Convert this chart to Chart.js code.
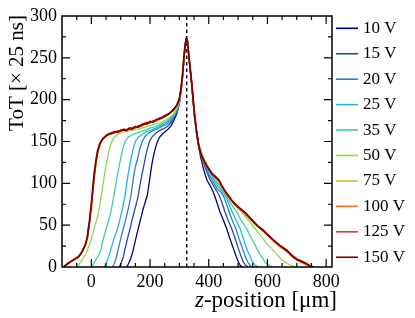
<!DOCTYPE html>
<html>
<head>
<meta charset="utf-8">
<script src="https://cdn.jsdelivr.net/npm/chart.js@4.4.1/dist/chart.umd.min.js"></script>
<style>
  html, body { margin: 0; padding: 0; background: #fff; }
  #wrap { width: 415px; height: 318px; }
</style>
</head>
<body>
<div id="wrap"><canvas id="tot" width="415" height="318"></canvas></div>
<script>
const SERIF = "'Liberation Serif', 'Times New Roman', serif";

// bias voltages and their colours (jet-like)
const voltages = ["10 V", "15 V", "20 V", "25 V", "35 V", "50 V", "75 V", "100 V", "125 V", "150 V"];
const lineColors = ["#000080", "#2a4a9f", "#2f7fcf", "#1fb7df", "#3fcf9f", "#8fd84f", "#c7bf2f", "#ef6f1f", "#e73737", "#7f0000"];

// [z-position (um), ToT (x25 ns)]
const tot10V = [[121,0],[128,5],[135,11],[141,18],[149,30],[157,42],[167,56],[177,70],[184,78],[191,86],[196,98],[201,110],[205,120],[209,128],[215,138],[223,148],[232,155],[242,159],[252,162],[262,165],[272,169],[281,175],[290,182],[296,189],[301,198],[306,211],[311,228],[316,250],[320,266],[324,274],[327,272],[331,257],[336,238],[342,218],[347,198],[352,178],[358,161],[365,145],[372,132],[380,120],[388,110],[395,103],[405,97],[415,90],[425,80],[438,66],[450,56],[461,46],[472,34],[484,22],[493,13],[501,6],[507,2],[513,0]];
const tot15V = [[95,0],[102,5],[109,12],[115,22],[123,34],[132,46],[140,58],[149,70],[155,78],[160,86],[166,98],[172,110],[178,120],[183,129],[190,140],[198,150],[208,156],[220,160],[232,163],[244,165],[256,167],[268,171],[280,177],[290,184],[296,190],[301,199],[306,212],[311,229],[316,251],[320,266],[324,273],[327,271],[331,257],[336,239],[342,219],[347,199],[352,179],[358,162],[365,146],[375,133],[385,122],[395,112],[405,104],[415,98],[425,92],[435,86],[445,77],[455,66],[466,56],[478,46],[490,34],[501,22],[510,13],[518,6],[526,2],[533,0]];
const tot20V = [[72,0],[79,5],[86,12],[92,22],[100,34],[109,46],[118,58],[126,70],[131,78],[135,86],[140,98],[145,110],[150,120],[158,130],[165,141],[173,150],[183,156],[195,160],[210,163],[225,165],[240,168],[255,170],[268,174],[280,179],[290,185],[296,191],[301,199],[306,212],[311,229],[316,251],[320,266],[324,272],[327,271],[331,257],[336,239],[342,219],[347,199],[352,179],[358,162],[365,147],[375,135],[385,125],[395,116],[405,108],[418,100],[430,93],[440,90],[450,85],[460,76],[469,66],[480,56],[492,46],[503,34],[515,22],[524,13],[533,6],[540,2],[546,0]];
const tot25V = [[43,0],[50,4],[57,10],[64,18],[72,28],[79,36],[86,42],[95,54],[104,66],[110,76],[115,86],[120,98],[125,110],[130,120],[135,129],[142,141],[150,150],[160,155],[175,159],[190,162],[205,164],[220,166],[235,169],[250,171],[265,175],[280,181],[290,187],[296,192],[301,200],[306,213],[311,230],[316,252],[320,266],[324,272],[327,270],[331,256],[336,239],[342,219],[347,199],[352,179],[358,162],[365,147],[375,136],[385,127],[395,119],[405,112],[418,104],[430,97],[444,91],[457,85],[468,76],[480,66],[493,56],[507,46],[518,34],[529,22],[540,13],[549,6],[558,2],[569,0]];
const tot35V = [[-1,0],[8,4],[16,9],[24,14],[32,20],[40,32],[48,43],[56,52],[64,62],[71,74],[77,86],[83,98],[89,110],[95,121],[100,130],[107,141],[115,150],[125,155],[140,158],[160,161],[180,163],[200,166],[220,168],[240,171],[260,175],[280,182],[290,188],[296,193],[301,200],[306,213],[311,230],[316,252],[320,266],[324,272],[327,270],[331,256],[336,239],[342,219],[347,199],[352,180],[358,163],[365,148],[375,137],[385,128],[395,121],[405,114],[418,106],[430,100],[442,94],[456,87],[468,80],[481,73],[495,66],[510,56],[529,46],[546,34],[564,22],[578,13],[592,6],[605,2],[620,0]];
const tot50V = [[-50,0],[-42,3],[-34,7],[-25,12],[-16,17],[-8,25],[0,34],[8,44],[16,54],[24,64],[30,76],[36,90],[42,104],[48,117],[54,129],[60,139],[68,149],[78,155],[92,159],[120,162],[150,164],[180,167],[210,170],[240,173],[260,177],[280,183],[290,189],[296,194],[301,201],[306,214],[311,231],[316,253],[320,267],[324,272],[327,270],[331,256],[336,239],[342,219],[347,199],[352,180],[358,163],[365,148],[375,138],[385,129],[395,122],[405,115],[418,108],[430,102],[445,94],[461,86],[475,80],[490,73],[512,66],[535,56],[558,46],[580,36],[600,27],[615,22],[630,16],[645,10],[660,6],[675,3],[694,0]];
const tot75V = [[-92,0],[-82,3],[-70,6],[-56,10],[-42,13],[-30,19],[-19,27],[-12,37],[-8,48],[-4,58],[-1,68],[2,78],[5,89],[9,101],[13,114],[18,127],[24,139],[32,148],[42,153],[50,156],[60,158],[70,160],[80,161],[90,161],[100,163],[110,164],[120,164],[130,165],[140,166],[150,166],[160,168],[170,169],[180,170],[190,171],[200,172],[210,174],[220,175],[230,176],[240,178],[250,179],[260,181],[270,184],[280,187],[290,191],[296,196],[301,202],[306,214],[311,231],[316,252],[320,266],[324,271],[327,269],[331,256],[336,239],[342,219],[347,199],[352,180],[358,163],[365,147],[372,135],[385,125],[400,117],[412,111],[425,106],[435,102],[445,96],[457,89],[469,83],[482,77],[496,72],[510,67],[524,63],[540,57],[555,52],[570,47],[586,42],[605,36],[625,29],[645,23],[666,18],[685,12],[700,8],[715,5],[728,3],[740,1],[748,0]];
const tot100V = [[-94,0],[-84,3],[-72,6],[-57,10],[-43,13],[-31,19],[-20,27],[-13,37],[-9,48],[-5,58],[-2,68],[1,78],[4,89],[8,101],[12,114],[17,127],[23,139],[31,148],[41,154],[50,157],[60,158],[70,161],[80,160],[90,162],[100,164],[110,163],[120,165],[130,164],[140,166],[150,167],[160,168],[170,168],[180,170],[190,172],[200,173],[210,174],[220,174],[230,176],[240,179],[250,179],[260,182],[270,185],[280,187],[290,192],[296,197],[301,202],[306,214],[311,231],[316,252],[320,266],[324,272],[327,270],[331,256],[336,239],[342,219],[347,199],[352,180],[358,163],[365,147],[372,135],[385,125],[400,117],[412,111],[425,106],[435,103],[445,97],[457,89],[469,84],[482,77],[496,73],[510,68],[524,64],[540,58],[555,53],[570,48],[586,43],[605,37],[625,30],[645,24],[666,19],[685,13],[700,9],[715,6],[728,4],[742,2],[752,0]];
const tot125V = [[-93,0],[-83,3],[-71,6],[-57,9],[-43,13],[-31,18],[-20,27],[-13,36],[-9,47],[-5,57],[-2,67],[1,77],[4,88],[7,100],[11,113],[16,127],[22,139],[30,148],[40,154],[50,156],[60,160],[70,159],[80,161],[90,163],[100,162],[110,165],[120,164],[130,165],[140,167],[150,166],[160,169],[170,169],[180,172],[190,173],[200,172],[210,175],[220,175],[230,178],[240,179],[250,180],[260,183],[270,184],[280,189],[290,192],[296,198],[301,203],[306,215],[311,232],[316,253],[320,267],[324,272],[327,270],[331,256],[336,239],[342,219],[347,199],[352,180],[358,163],[365,147],[372,136],[385,126],[400,118],[412,112],[425,108],[435,103],[445,96],[457,90],[469,85],[482,78],[496,74],[510,68],[524,65],[540,59],[555,54],[570,48],[586,43],[605,38],[625,30],[645,25],[666,19],[685,14],[700,10],[715,7],[728,4],[742,2],[754,0]];
const tot150V = [[-95,0],[-85,3],[-73,6],[-58,9],[-44,12],[-32,18],[-21,26],[-14,35],[-10,46],[-6,56],[-3,66],[0,76],[3,86],[6,98],[10,112],[15,126],[21,138],[28,147],[38,153],[50,157],[60,159],[70,160],[80,162],[90,161],[100,163],[110,164],[120,163],[130,166],[140,165],[150,168],[160,167],[170,170],[180,171],[190,171],[200,174],[210,173],[220,176],[230,177],[240,178],[250,181],[260,182],[270,185],[280,188],[290,193],[296,197],[301,203],[306,214],[311,231],[316,253],[320,267],[324,273],[327,271],[331,257],[336,240],[342,220],[347,200],[352,181],[358,164],[365,147],[372,136],[385,126],[400,117],[412,111],[425,107],[435,104],[445,97],[457,90],[469,84],[482,78],[496,73],[510,69],[524,65],[540,59],[555,53],[570,48],[586,44],[605,37],[625,31],[645,25],[666,20],[685,13],[700,9],[715,7],[728,5],[742,2],[756,0]];
const totSeries = [tot10V, tot15V, tot20V, tot25V, tot35V, tot50V, tot75V, tot100V, tot125V, tot150V];

const zTicks = [0, 200, 400, 600, 800];
const zRange = [-100, 820];
const totRange = [0, 300];
const peakZ = 325; // dashed marker

// ticks inside the frame on all four sides, titles and legend
const frame = {
  id: "frame",
  afterDatasetsDraw(chart) {
    const { ctx, chartArea: a, scales: { x, y } } = chart;
    ctx.save();
    ctx.strokeStyle = "#000";
    ctx.lineWidth = 1.5;
    ctx.strokeRect(a.left, a.top, a.right - a.left, a.bottom - a.top);
    ctx.lineWidth = 1.2;
    ctx.beginPath();
    for (let v = -50; v < zRange[1]; v += 50) {
      const px = x.getPixelForValue(v);
      const len = v % 200 === 0 ? 8 : 4;
      ctx.moveTo(px, a.bottom); ctx.lineTo(px, a.bottom - len);
      ctx.moveTo(px, a.top); ctx.lineTo(px, a.top + len);
    }
    for (let v = 25; v < totRange[1]; v += 25) {
      const py = y.getPixelForValue(v);
      const len = v % 50 === 0 ? 8 : 4;
      ctx.moveTo(a.left, py); ctx.lineTo(a.left + len, py);
      ctx.moveTo(a.right, py); ctx.lineTo(a.right - len, py);
    }
    ctx.stroke();
    ctx.restore();
  },
  afterDraw(chart) {
    const { ctx, chartArea: a } = chart;
    ctx.save();
    ctx.fillStyle = "#000";

    // y title, top aligned
    ctx.font = `21px ${SERIF}`;
    ctx.save();
    ctx.translate(17, a.top - 1);
    ctx.rotate(-Math.PI / 2);
    ctx.textAlign = "right";
    ctx.textBaseline = "middle";
    ctx.fillText("ToT [× 25 ns]", 0, 0);
    ctx.restore();

    // x title, right aligned, italic z
    const rest = "-position [μm]";
    ctx.textBaseline = "alphabetic";
    ctx.textAlign = "left";
    ctx.font = `23px ${SERIF}`;
    const wRest = ctx.measureText(rest).width;
    ctx.font = `italic 23px ${SERIF}`;
    const wZ = ctx.measureText("z").width;
    const x0 = 337 - wRest - wZ;
    ctx.fillText("z", x0, 307);
    ctx.font = `23px ${SERIF}`;
    ctx.fillText(rest, x0 + wZ, 307);

    // legend
    ctx.font = `17px ${SERIF}`;
    ctx.textBaseline = "middle";
    voltages.forEach((v, i) => {
      const ly = 28.3 + i * 25.44;
      ctx.strokeStyle = lineColors[i];
      ctx.lineWidth = 1.6;
      ctx.beginPath();
      ctx.moveTo(336, ly); ctx.lineTo(358, ly);
      ctx.stroke();
      ctx.fillText(v, 363, ly);
    });
    ctx.restore();
  },
};

const datasets = totSeries.map((s, i) => ({
  label: voltages[i],
  data: s,
  borderColor: lineColors[i],
  borderWidth: i === totSeries.length - 1 ? 1.8 : 1.3,
  pointRadius: 0,
  tension: 0,
  fill: false,
  order: totSeries.length - i,
}));
datasets.push({
  label: "peak",
  data: [[peakZ, totRange[0]], [peakZ, totRange[1]]],
  borderColor: "#000",
  borderWidth: 1.4,
  borderDash: [3.5, 3],
  pointRadius: 0,
  order: 50,
});

new Chart(document.getElementById("tot"), {
  type: "line",
  data: { datasets },
  options: {
    responsive: false,
    animation: false,
    devicePixelRatio: 1,
    layout: { padding: { left: 0, top: 16, right: 83, bottom: 0 } },
    scales: {
      x: {
        type: "linear",
        min: zRange[0],
        max: zRange[1],
        grid: { display: false, drawTicks: false },
        border: { display: false },
        afterBuildTicks: (s) => { s.ticks = zTicks.map((v) => ({ value: v })); },
        afterFit: (s) => { s.height = 51; },
        ticks: {
          autoSkip: false,
          maxRotation: 0,
          padding: 4,
          color: "#000",
          font: { family: SERIF, size: 18 },
        },
      },
      y: {
        min: totRange[0],
        max: totRange[1],
        grid: { display: false, drawTicks: false },
        border: { display: false },
        afterFit: (s) => { s.width = 62; },
        ticks: {
          stepSize: 50,
          padding: 5,
          color: "#000",
          font: { family: SERIF, size: 18 },
        },
      },
    },
    plugins: {
      legend: { display: false },
      tooltip: { enabled: false },
    },
  },
  plugins: [frame],
});
</script>
</body>
</html>
